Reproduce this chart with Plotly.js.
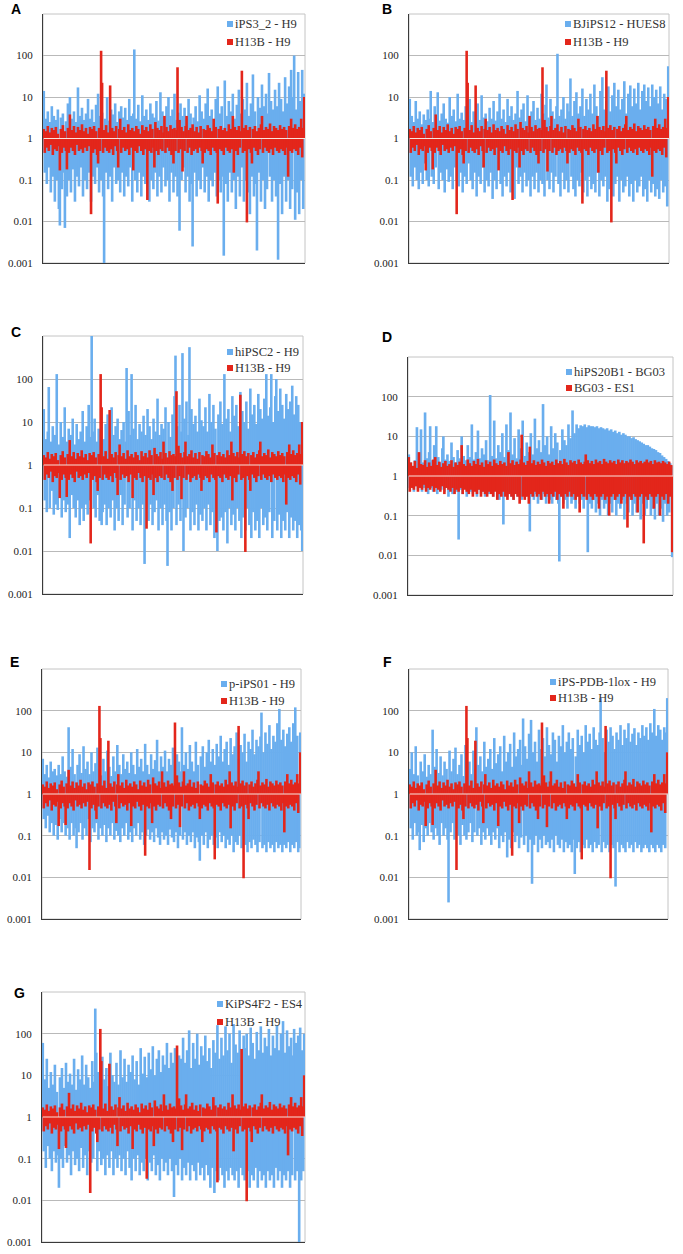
<!DOCTYPE html>
<html>
<head>
<meta charset="utf-8">
<script src="https://cdn.plot.ly/plotly-3.0.1.min.js"></script>
<style>
  body { margin: 0; background: #fff; }
  #myDiv { width: 683px; height: 1254px; }
</style>
</head>
<body>
<div id="myDiv"></div>
<script>
// ratios, left to right
var h13bH9 = [
  1.7, 0.45, 1.5, 0.6, 2.0, 0.5, 1.4, 0.7, 1.8, 0.4, 1.6, 0.55, 1.9, 0.5, 1.3, 0.65, 0.17, 1.7, 0.45, 2.1,
  0.6, 1.5, 0.5, 0.18, 1.8, 0.45, 3.8, 0.6, 1.6, 0.5, 2.0, 0.4, 1.4, 0.7, 1.9, 0.5, 1.6, 0.55, 2.2, 0.45,
  1.5, 0.6, 1.8, 0.5, 1.3, 0.65, 1.9, 0.015, 1.7, 0.45, 2.0, 0.55, 1.5, 0.4, 0.25, 1.8, 0.5, 130, 22, 0.45,
  1.6, 0.6, 2.1, 0.5, 1.4, 0.45, 19, 0.55, 1.8, 0.4, 1.5, 0.65, 2.0, 0.5, 0.2, 1.7, 3, 0.45, 1.6, 0.6,
  1.9, 0.5, 1.4, 0.55, 2.2, 0.4, 1.6, 0.6, 1.8, 0.17, 1.5, 0.5, 2.0, 0.45, 1.7, 0.65, 1.3, 0.5, 2.1, 0.4,
  1.6, 0.55, 1.9, 0.033, 1.5, 0.5, 2.2, 0.45, 1.7, 0.6, 0.2, 2.5, 0.5, 1.8, 0.4, 1.6, 0.55, 2.0, 0.5, 1.4,
  3.5, 0.45, 1.9, 0.6, 1.5, 0.5, 2.1, 0.4, 1.7, 0.25, 1.8, 0.5, 1.6, 52, 0.45, 2.8, 0.55, 1.9, 0.16, 1.5,
  0.5, 2.0, 3.5, 0.45, 1.6, 0.6, 1.8, 0.4, 2.2, 0.5, 1.5, 0.55, 1.9, 0.45, 1.4, 0.6, 2.0, 0.5, 0.25, 1.7,
  0.45, 1.6, 0.55, 2.1, 0.5, 1.8, 0.4, 1.5, 0.6, 3, 0.5, 1.9, 0.45, 0.027, 1.7, 0.55, 2.0, 0.5, 1.6, 0.4,
  1.8, 0.6, 1.5, 0.5, 2.2, 0.45, 1.7, 0.55, 3.5, 0.15, 1.9, 0.5, 1.6, 0.4, 2.0, 0.6, 1.5, 43, 0.45, 1.8,
  0.5, 2.1, 0.0095, 1.6, 0.55, 1.9, 0.45, 0.25, 1.7, 0.6, 2.0, 0.5, 1.5, 0.4, 1.8, 0.55, 2.2, 3.5, 0.45, 1.6,
  0.6, 1.9, 0.5, 1.7, 0.45, 2.3, 0.55, 1.5, 0.4, 2.0, 0.6, 1.8, 0.5, 1.6, 0.45, 2.1, 0.55, 1.7, 0.5, 1.9,
  0.4, 1.6, 0.6, 0.12, 2.0, 0.5, 3, 0.45, 1.8, 0.55, 2.2, 0.5, 1.7, 0.4, 1.9, 0.6, 3, 0.35, 1.8, 10
];

var iPS3_2H9 = [
  14, 0.15, 3, 0.08, 4.5, 0.2, 2.5, 0.05, 6, 0.12, 3.5, 0.03, 2.8, 0.1, 5, 0.02, 0.008, 3.2, 0.06, 4,
  0.15, 0.007, 2.6, 0.04, 7, 0.1, 10, 0.05, 3, 0.18, 4.5, 0.03, 2.5, 0.12, 17, 0.07, 3.5, 0.2, 5.5, 0.04,
  2.8, 0.1, 4, 0.06, 9, 0.15, 3, 0.03, 5, 0.12, 2.5, 0.08, 6.5, 0.2, 12, 0.05, 3.5, 0.1, 4.2, 0.04,
  0.001, 3, 0.15, 10, 0.06, 2.7, 0.12, 5, 0.03, 3.8, 0.2, 7, 0.08, 2.5, 0.1, 4.5, 0.05, 6, 0.15, 3.2,
  0.04, 5.5, 0.12, 2.8, 0.07, 9, 0.2, 3.5, 0.03, 4, 140, 0.1, 3, 0.05, 6.5, 0.15, 2.6, 0.04, 11, 0.12,
  3.5, 0.08, 5, 0.2, 2.8, 0.03, 7, 0.1, 4, 0.06, 3.2, 0.15, 8, 0.04, 2.7, 0.12, 13, 0.05, 4.5, 0.2,
  3, 0.07, 6, 0.1, 10, 0.03, 3.5, 0.15, 5, 0.05, 12, 0.12, 2.8, 0.04, 4.2, 0.006, 7, 0.1, 3.5, 0.2,
  5.5, 0.05, 2.9, 0.12, 9, 0.03, 4, 0.08, 0.0025, 3.2, 0.15, 6, 0.04, 2.6, 0.1, 11, 0.06, 4.5, 0.2, 3,
  0.05, 7, 0.12, 16, 0.03, 3.5, 0.1, 5, 0.07, 2.8, 0.15, 9, 0.04, 18, 0.1, 4, 0.05, 6, 0.12, 0.0015,
  25, 0.08, 3.5, 0.03, 8, 0.15, 4.5, 0.05, 12, 0.1, 3, 0.02, 6.5, 0.12, 15, 0.04, 4, 0.2, 9, 0.03,
  5, 0.1, 22, 0.05, 3.5, 0.015, 7, 0.12, 35, 0.04, 4.5, 0.08, 0.002, 10, 0.15, 5.5, 0.03, 20, 0.1, 6,
  0.02, 12, 0.06, 4, 38, 0.12, 8, 0.03, 5, 0.1, 15, 0.04, 6, 0.0012, 22, 0.08, 9, 0.015, 4.5, 0.12,
  30, 0.03, 7, 0.1, 18, 0.02, 45, 0.06, 10, 100, 0.011, 5, 0.05, 40, 0.015, 8, 0.1, 45, 0.02, 12
];

var bjiPS12HUES8 = [
  9, 0.12, 3.5, 0.07, 2.5, 0.2, 8, 0.1, 3, 0.06, 4.5, 0.15, 2.2, 0.08, 3.8, 0.25, 2.8, 0.1, 5, 0.07,
  3, 14, 0.12, 2.5, 0.08, 6, 0.2, 3.2, 13, 0.06, 2.7, 0.15, 4, 0.1, 7, 0.05, 3, 0.18, 2.4, 0.09,
  10, 0.12, 3.5, 0.06, 5, 0.2, 2.6, 0.1, 12, 0.07, 3, 0.15, 4.2, 0.05, 2.8, 0.12, 6, 0.08, 3.5, 0.25,
  9, 0.1, 2.5, 0.06, 4.5, 0.15, 3, 0.04, 7, 0.12, 2.8, 0.08, 11, 0.2, 3.2, 0.05, 4, 0.1, 2.6, 0.07,
  5.5, 0.15, 3, 0.035, 8, 0.1, 2.7, 0.06, 4.5, 0.18, 12, 0.08, 3, 0.04, 5, 0.12, 2.5, 0.07, 9, 0.15,
  3.5, 0.05, 6, 0.1, 2.8, 0.035, 4, 0.2, 14, 0.08, 3.2, 0.12, 5, 0.05, 7, 0.15, 2.6, 0.07, 11, 0.1,
  3.5, 0.04, 4.5, 0.12, 8, 0.06, 2.8, 0.15, 5.5, 0.05, 3, 0.1, 12, 0.08, 4, 0.04, 6.5, 20, 0.1, 3.2,
  0.06, 9, 0.15, 4.5, 0.05, 3, 0.12, 6, 110, 0.08, 3.5, 0.04, 5, 0.15, 10, 0.06, 3, 0.1, 7, 0.05,
  4.5, 28, 0.12, 3.5, 0.06, 8, 0.04, 13, 0.1, 4, 0.07, 6, 0.15, 16, 0.05, 3.5, 0.1, 9, 0.04, 5,
  0.12, 12, 0.06, 4, 0.08, 20, 0.05, 6, 0.15, 3.5, 0.04, 14, 0.1, 30, 0.07, 5, 0.12, 8, 0.03, 18,
  0.06, 4.5, 0.1, 11, 0.04, 22, 0.08, 6, 0.12, 15, 0.03, 5, 0.1, 9, 0.05, 24, 0.07, 4, 0.12, 12,
  0.04, 19, 0.08, 6, 0.03, 16, 0.1, 7, 0.05, 22, 0.07, 5, 0.12, 14, 0.04, 20, 0.06, 8, 0.03, 17,
  0.1, 6, 0.05, 20, 0.08, 10, 0.04, 15, 0.06, 7, 0.035, 18, 0.1, 5, 0.05, 12, 0.07, 9, 0.023, 55
];

var hiPSC2H9 = [
  20, 0.15, 4, 0.08, 6, 65, 0.1, 3.5, 0.25, 8, 0.07, 5, 0.12, 130, 0.09, 3, 0.2, 10, 0.06, 4.5,
  0.15, 22, 0.08, 3.5, 0.12, 7, 0.02, 5, 0.2, 12, 0.1, 3, 0.06, 9, 0.15, 4, 0.04, 6, 0.1, 18,
  0.05, 3.5, 0.12, 8, 0.07, 25, 0.15, 4.5, 1000, 6, 0.1, 12, 0.06, 3.5, 0.2, 7, 0.05, 5, 0.04, 0.08,
  4, 0.12, 9, 0.04, 15, 0.1, 3.5, 0.06, 22, 0.15, 5, 0.03, 8, 0.1, 12, 0.05, 4, 0.2, 6.5, 0.04,
  10, 0.12, 3.5, 180, 0.06, 18, 0.1, 5, 130, 0.03, 7, 0.15, 25, 0.05, 4, 0.1, 9, 0.04, 6, 0.12,
  14, 0.005, 5, 0.1, 20, 0.05, 8, 0.12, 4, 0.04, 12, 0.08, 6, 0.15, 35, 0.03, 5, 0.1, 9, 0.04,
  7, 0.12, 22, 0.05, 0.0045, 10, 0.08, 4.5, 0.03, 15, 0.1, 40, 350, 0.04, 8, 0.12, 25, 0.05, 6, 400,
  0.01, 12, 0.06, 30, 0.1, 5, 550, 0.03, 20, 0.08, 9, 0.04, 14, 0.12, 6, 0.03, 35, 0.07, 11, 0.05,
  8, 0.1, 22, 0.03, 6, 0.12, 45, 0.04, 10, 0.08, 25, 0.02, 7, 0.1, 0.01, 15, 0.05, 30, 0.06, 9,
  0.03, 130, 0.08, 12, 0.015, 20, 0.1, 6, 0.04, 40, 0.07, 14, 0.03, 25, 0.1, 8, 0.05, 50, 0.02, 18,
  0.06, 10, 0.03, 30, 0.1, 7, 0.04, 60, 0.02, 15, 0.08, 25, 0.03, 9, 0.05, 45, 0.02, 20, 0.1, 12,
  0.04, 35, 0.06, 130, 0.03, 14, 0.08, 22, 130, 0.02, 10, 0.05, 40, 100, 0.03, 18, 0.07, 60, 0.02, 25,
  0.05, 12, 0.03, 45, 0.08, 20, 0.02, 30, 0.06, 70, 0.03, 15, 0.05, 40, 0.02, 25, 0.04, 10, 0.03, 0.01
];

var hiPS20B1BG03 = [
  3.5, 0.5, 2.2, 0.6, 1.8, 0.4, 2.5, 0.55, 17, 0.45, 3, 0.6, 15, 0.4, 2.2, 0.5, 40, 0.45, 2.8, 0.35,
  4, 18, 0.5, 2.5, 0.4, 6, 0.55, 18, 0.35, 3, 0.5, 2.2, 0.45, 5, 10, 0.4, 2.6, 0.5, 3.5, 0.3,
  2.4, 0.45, 7, 0.35, 3, 0.5, 2.2, 0.4, 4.5, 0.025, 2.8, 0.45, 10, 0.35, 3.2, 0.5, 2.5, 0.3, 6, 0.45,
  3, 0.4, 20, 0.35, 2.6, 0.5, 4, 0.3, 14, 0.45, 2.8, 0.35, 5, 0.4, 3.5, 0.3, 8, 0.45, 2.5, 0.35,
  110, 0.4, 3.2, 0.3, 25, 0.45, 2.8, 0.35, 6, 0.25, 4, 0.4, 12, 0.06, 3, 0.35, 20, 0.3, 4.5, 0.4,
  40, 0.3, 3.5, 0.25, 9, 0.4, 2.8, 0.3, 15, 0.35, 5, 0.25, 25, 0.4, 3.2, 0.3, 7, 0.35, 4, 0.04,
  12, 0.3, 3.5, 0.25, 28, 0.35, 5, 0.2, 8, 0.3, 4, 0.25, 65, 0.35, 6, 0.2, 10, 0.3, 3.5, 0.25,
  18, 0.2, 5, 0.3, 12, 0.25, 7, 0.2, 0.007, 4.5, 0.3, 15, 0.2, 8, 0.25, 6, 0.15, 20, 0.3, 9,
  0.2, 45, 0.25, 12, 0.15, 20, 0.3, 16, 0.2, 19, 0.25, 18, 0.15, 20, 0.3, 17, 0.012, 19, 0.2, 18,
  0.15, 18, 0.25, 17, 0.12, 18, 0.2, 16, 0.1, 17, 0.25, 16, 0.15, 15, 0.2, 16, 0.1, 14, 0.2, 15,
  0.12, 13, 0.25, 14, 0.1, 12, 0.2, 13, 0.15, 11, 0.25, 12, 0.08, 11, 0.2, 10, 0.12, 10, 0.25, 9,
  0.1, 9.5, 0.2, 8.5, 0.12, 8, 0.25, 7.5, 0.08, 7, 0.2, 6.5, 0.1, 6, 0.15, 6, 0.25, 5.5, 0.1, 5,
  0.15, 4.8, 0.08, 4.5, 0.2, 4, 0.1, 3.8, 0.15, 3.3, 0.07, 3, 0.2, 2.7, 0.1, 2.4, 0.12, 2.1, 1.8, 0.009
];

var bg03ES1 = [
  3, 0.4, 2.2, 0.5, 1.8, 0.45, 2.4, 0.55, 1.6, 0.4, 4, 0.5, 2.0, 0.45, 1.9, 0.6, 2.5, 0.4, 1.7, 0.5,
  2.2, 0.45, 1.8, 0.55, 2.6, 0.4, 3, 0.5, 1.9, 0.45, 2.3, 0.4, 1.7, 0.55, 2.1, 0.35, 2.4, 0.5, 1.8, 0.45,
  2.0, 0.4, 2.5, 0.5, 1.7, 0.35, 2.2, 0.45, 1.9, 0.4, 2.3, 0.5, 6, 0.35, 2.0, 0.45, 1.8, 0.4, 2.6, 0.35,
  2.1, 0.45, 1.8, 0.3, 2.4, 0.4, 2.0, 0.35, 2.7, 0.45, 1.9, 0.3, 2.2, 0.4, 1.7, 0.35, 2.5, 0.3, 2.0, 0.4,
  2.3, 0.35, 1.8, 0.3, 2.6, 0.4, 2.1, 0.25, 1.9, 0.35, 2.4, 0.3, 2.0, 0.4, 2.2, 0.3, 1.8, 0.25, 4, 0.35,
  2.1, 0.3, 2.5, 0.25, 1.9, 0.35, 2.3, 0.3, 2.0, 0.2, 2.6, 11, 0.3, 2.2, 0.25, 1.9, 0.3, 2.4, 0.2, 5.5,
  0.35, 2.1, 0.3, 2.5, 0.4, 1.9, 0.3, 2.3, 0.35, 2.0, 0.25, 2.6, 0.4, 2.2, 0.3, 1.8, 0.35, 2.4, 0.2, 2.1,
  0.35, 2.3, 0.3, 1.9, 0.4, 2.6, 0.25, 2.1, 0.35, 2.4, 0.3, 2.0, 0.15, 2.7, 0.35, 2.2, 0.3, 1.9, 0.4, 2.5,
  0.3, 2.2, 0.35, 2.4, 0.25, 2.0, 0.3, 2.6, 0.12, 2.2, 0.35, 2.0, 0.3, 2.3, 3.5, 0.25, 2.5, 0.35, 2.1, 0.3,
  2.4, 0.25, 2.0, 0.35, 2.6, 0.3, 2.2, 0.15, 2.4, 0.3, 2.0, 0.35, 2.7, 0.25, 2.3, 0.3, 2.1, 0.1, 2.5, 0.3,
  2.2, 0.35, 2.4, 0.25, 2.0, 0.3, 2.6, 0.35, 2.2, 0.2, 2.5, 0.3, 2.1, 0.35, 2.4, 0.05, 2.2, 0.3, 2.6, 0.25,
  2.3, 0.35, 2.0, 0.3, 2.5, 0.12, 2.2, 0.3, 2.4, 0.35, 2.1, 0.02, 2.3, 0.3, 2.6, 0.25, 2.2, 0.35, 2.4, 0.3,
  2.0, 0.15, 2.5, 0.3, 2.2, 0.35, 2.3, 0.1, 2.1, 0.3, 2.4, 0.25, 2.2, 0.35, 2.0, 0.2, 2.3, 0.3, 1.9, 0.012
];

var pIPS01H9 = [
  7, 0.25, 3, 0.15, 5, 0.3, 2.5, 0.12, 6, 0.2, 3.5, 0.1, 4, 0.18, 2.8, 0.08, 5, 0.25, 3, 0.12,
  8, 0.2, 3.5, 0.1, 2.6, 0.15, 40, 0.08, 4.5, 0.2, 12, 0.1, 3, 0.15, 0.05, 5, 0.12, 9, 0.2, 3.2,
  0.08, 14, 0.15, 4, 0.1, 6, 0.25, 3, 0.07, 10, 0.15, 3.5, 0.12, 5.5, 0.2, 13, 0.08, 4, 0.15, 2.8,
  0.1, 7, 0.18, 3.5, 0.07, 11, 0.15, 4.5, 0.1, 2.7, 0.2, 8, 0.08, 3.5, 0.13, 15, 0.1, 5, 0.07, 3,
  0.15, 9, 0.1, 4, 0.2, 6, 0.08, 3.2, 0.12, 10, 0.07, 5, 0.15, 3, 0.1, 12, 0.2, 4.5, 0.08, 7,
  0.12, 3.5, 0.06, 16, 0.1, 5, 0.14, 3, 0.08, 9, 0.12, 4, 0.07, 6.5, 0.15, 20, 0.09, 3.5, 0.06, 8,
  0.12, 4.5, 0.08, 11, 0.1, 3.5, 0.06, 7, 0.14, 5, 0.09, 13, 0.07, 4, 0.12, 9, 0.05, 6, 0.1, 3.5,
  40, 0.08, 5, 0.12, 10, 0.06, 4, 0.1, 15, 0.07, 6, 0.12, 3.5, 0.05, 18, 0.09, 5, 0.07, 0.025, 8,
  0.1, 14, 0.06, 4.5, 0.12, 10, 0.05, 20, 0.08, 6, 0.1, 12, 0.06, 5, 0.09, 16, 0.05, 8, 0.12, 25,
  0.07, 6, 0.1, 12, 0.05, 18, 0.08, 5, 0.06, 22, 0.1, 9, 0.04, 14, 0.07, 30, 0.06, 7, 0.1, 15,
  0.05, 10, 0.08, 28, 0.06, 6, 0.04, 18, 0.07, 12, 0.05, 35, 0.08, 9, 0.06, 20, 0.04, 14, 0.07, 24,
  90, 0.05, 10, 0.06, 30, 0.04, 16, 0.07, 45, 0.05, 12, 0.06, 25, 0.04, 18, 0.07, 50, 0.05, 110, 0.06,
  20, 0.04, 35, 0.06, 14, 0.05, 28, 0.07, 40, 0.04, 18, 0.06, 50, 0.05, 120, 0.07, 25, 0.04, 0.05, 30
];

var iPSPDB1loxH9 = [
  4, 0.15, 10, 0.08, 3, 0.2, 14, 0.1, 2.8, 0.12, 0.045, 6, 0.18, 3.5, 0.07, 9, 0.15, 2.6, 0.1, 5,
  0.2, 3, 0.12, 35, 0.08, 4.5, 0.15, 12, 0.1, 3.2, 0.06, 8, 0.2, 2.8, 0.1, 6, 0.15, 4, 0.08, 0.0025,
  11, 0.12, 3.5, 0.2, 7, 0.08, 13, 0.15, 3, 0.1, 5, 0.06, 9, 0.18, 2.7, 0.1, 15, 0.08, 4.5, 0.12,
  6, 0.2, 3, 0.07, 11, 0.12, 4, 40, 0.1, 5, 0.15, 8, 0.06, 3.5, 0.12, 18, 0.08, 4.5, 0.15, 7,
  0.1, 12, 0.06, 4, 0.12, 22, 0.08, 5.5, 0.15, 9, 0.05, 14, 0.1, 3.5, 0.07, 25, 0.12, 6, 0.03, 10,
  0.08, 16, 0.05, 4.5, 0.12, 30, 0.07, 8, 0.1, 12, 0.05, 20, 0.09, 5, 65, 0.06, 14, 0.1, 7, 0.04,
  28, 0.08, 60, 0.007, 10, 0.06, 18, 0.1, 6, 0.04, 35, 0.08, 12, 0.05, 22, 0.1, 8, 0.06, 40, 0.07,
  15, 0.05, 9, 0.08, 30, 0.04, 20, 0.1, 6, 0.06, 25, 0.05, 14, 0.08, 45, 0.04, 10, 0.07, 18, 0.05,
  30, 0.06, 12, 0.04, 22, 0.08, 0.012, 8, 0.05, 35, 0.07, 15, 0.04, 25, 0.06, 10, 0.05, 45, 0.08, 18,
  0.05, 28, 0.06, 12, 0.04, 40, 0.07, 20, 0.05, 15, 0.06, 30, 200, 0.04, 22, 0.07, 10, 0.05, 35, 0.06,
  18, 0.04, 40, 0.06, 25, 0.05, 12, 0.006, 30, 0.07, 20, 0.04, 45, 0.06, 15, 0.05, 35, 0.04, 22, 0.07,
  50, 0.05, 18, 0.06, 28, 0.04, 38, 0.07, 15, 0.05, 30, 0.06, 22, 0.04, 45, 0.05, 25, 0.06, 40, 0.05,
  20, 0.04, 50, 0.06, 30, 0.05, 110, 0.04, 25, 0.06, 45, 0.05, 35, 0.04, 20, 0.06, 40, 0.05, 30, 200
];

var kiPS4F2ES4 = [
  60, 0.15, 8, 0.06, 25, 0.2, 5, 0.1, 12, 0.05, 6, 0.15, 18, 0.08, 4, 0.12, 0.02, 9, 0.1, 15,
  0.06, 5, 0.2, 20, 0.08, 7, 0.12, 11, 0.04, 6, 0.15, 25, 0.07, 4.5, 0.1, 14, 0.05, 8, 0.18, 30,
  0.06, 6, 0.12, 18, 0.04, 9, 0.15, 5, 0.08, 22, 0.1, 7, 400, 35, 0.05, 12, 0.15, 6, 0.07, 28,
  0.1, 8, 0.04, 15, 0.12, 5.5, 0.06, 35, 0.15, 10, 0.04, 7, 0.1, 20, 0.06, 6, 0.12, 40, 0.05, 9,
  0.1, 25, 0.04, 7, 0.15, 18, 0.06, 12, 0.03, 30, 0.1, 8, 0.05, 22, 0.12, 6, 0.04, 45, 0.08, 11,
  0.05, 28, 0.1, 9, 0.03, 35, 0.08, 14, 0.05, 50, 0.12, 10, 0.04, 25, 0.07, 40, 0.03, 12, 0.1, 30,
  0.05, 18, 0.08, 60, 0.04, 15, 0.1, 35, 0.05, 20, 0.012, 45, 0.07, 12, 0.04, 30, 0.1, 25, 0.03, 80,
  0.06, 20, 0.04, 40, 0.08, 120, 0.03, 15, 0.07, 60, 0.05, 25, 0.03, 100, 0.08, 18, 0.04, 50, 0.06, 30,
  0.03, 90, 0.07, 22, 0.04, 45, 0.02, 15, 0.06, 70, 0.015, 35, 0.05, 160, 0.03, 25, 0.06, 80, 0.04, 30,
  0.02, 150, 0.05, 40, 0.03, 100, 0.06, 20, 0.04, 170, 0.03, 55, 0.05, 35, 0.02, 120, 0.06, 25, 0.04, 90,
  0.03, 45, 100, 0.05, 30, 0.02, 140, 0.04, 60, 0.03, 25, 0.06, 110, 0.02, 40, 0.05, 150, 0.03, 35, 0.04,
  80, 0.02, 50, 0.05, 130, 0.03, 30, 0.04, 90, 0.02, 45, 0.06, 160, 0.03, 40, 0.05, 100, 0.02, 200, 0.04,
  35, 0.03, 120, 0.05, 50, 0.02, 80, 0.04, 30, 130, 0.03, 60, 0.05, 90, 0.001, 140, 0.03, 40, 0.05, 100
];

var yTickVals = [0.001, 0.01, 0.1, 1, 10, 100];
var yTickText = ['0.001', '0.01', '0.1', '1', '10', '100'];

var blue = '#6aaeee';
var red = '#e3261b';
var W = 683, H = 1254;

// box = [left, right, top, bottom] in px, leg = [square x, row1 y, row2 y], lab = [x, y]
var panels = [
  { letter: 'A', blue: iPS3_2H9, blueName: 'iPS3_2 - H9', red: h13bH9, redName: 'H13B - H9',
    box: [43, 305, 14, 263], leg: [227, 24, 42], lab: [9, 9] },
  { letter: 'B', blue: bjiPS12HUES8, blueName: 'BJiPS12 - HUES8', red: h13bH9, redName: 'H13B - H9',
    box: [409, 669, 14, 263], leg: [565, 24, 42], lab: [380, 9] },
  { letter: 'C', blue: hiPSC2H9, blueName: 'hiPSC2 - H9', red: h13bH9, redName: 'H13B - H9',
    box: [43, 303, 336, 594], leg: [227, 352, 368], lab: [9, 332] },
  { letter: 'D', blue: hiPS20B1BG03, blueName: 'hiPS20B1 - BG03', red: bg03ES1, redName: 'BG03 - ES1',
    box: [408, 673, 357, 595], leg: [566, 372, 388], lab: [380, 337] },
  { letter: 'E', blue: pIPS01H9, blueName: 'p-iPS01 - H9', red: h13bH9, redName: 'H13B - H9',
    box: [42, 301, 669, 919], leg: [221, 684, 701], lab: [8, 662] },
  { letter: 'F', blue: iPSPDB1loxH9, blueName: 'iPS-PDB-1lox - H9', red: h13bH9, redName: 'H13B - H9',
    box: [409, 668, 669, 919], leg: [550, 682, 698], lab: [381, 662] },
  { letter: 'G', blue: kiPS4F2ES4, blueName: 'KiPS4F2 - ES4', red: h13bH9, redName: 'H13B - H9',
    box: [42, 305, 992, 1242], leg: [217, 1004, 1022], lab: [12, 993] }
];

// columns hang from 1, so each bar's length is value - 1
function barTrace(vals, name, color, xr, yr) {
  var n = vals.length;
  return {
    type: 'bar', name: name, xaxis: xr, yaxis: yr,
    x: vals.map(function (v, i) { return i / (n - 1); }),
    y: vals.map(function (v) { return v - 1; }),
    base: 1,
    width: 2.6 / (n - 1),
    marker: { color: color, line: { width: 0 } }
  };
}

var data = [];
var layout = {
  width: W, height: H,
  margin: { l: 0, r: 0, t: 0, b: 0 },
  paper_bgcolor: '#fff', plot_bgcolor: '#fff',
  barmode: 'overlay',
  showlegend: false,
  hovermode: false,
  shapes: [],
  annotations: []
};

panels.forEach(function (p, k) {
  var n = k === 0 ? '' : String(k + 1);
  var xr = 'x' + n, yr = 'y' + n;

  data.push(barTrace(p.blue, p.blueName, blue, xr, yr));
  data.push(barTrace(p.red, p.redName, red, xr, yr));

  layout['xaxis' + n] = {
    domain: [p.box[0] / W, p.box[1] / W], anchor: yr,
    range: [-0.003, 1.003],
    showgrid: false, zeroline: false, showticklabels: false, ticks: '',
    showline: true, linecolor: '#3a3a3a', linewidth: 1
  };
  layout['yaxis' + n] = {
    domain: [1 - p.box[3] / H, 1 - p.box[2] / H], anchor: xr,
    type: 'log', range: [-3, 3],
    tickvals: yTickVals, ticktext: yTickText,
    ticks: '', ticklabelstandoff: 7,
    tickfont: { family: 'Liberation Serif', size: 11, color: '#222' },
    showgrid: true, gridcolor: '#b9b9b9', gridwidth: 1,
    showline: true, linecolor: '#3a3a3a', linewidth: 1, zeroline: false
  };

  // light plot frame
  layout.shapes.push({
    type: 'rect', xref: xr + ' domain', yref: yr + ' domain',
    x0: 0, x1: 1, y0: 0, y1: 1, layer: 'below',
    line: { color: '#c4c4c4', width: 1 }
  });
  // pale line where the ratio is 1
  layout.shapes.push({
    type: 'line', xref: xr + ' domain', yref: yr + ' domain',
    x0: 0.003, x1: 1, y0: 0.5, y1: 0.5, layer: 'above',
    line: { color: '#fbe3dc', width: 1 }
  });

  // legend squares and labels
  [[p.blueName, blue, p.leg[1]], [p.redName, red, p.leg[2]]].forEach(function (e) {
    layout.shapes.push({
      type: 'rect', xref: 'paper', yref: 'paper', layer: 'above',
      x0: p.leg[0] / W, x1: (p.leg[0] + 6) / W,
      y0: 1 - (e[2] + 3) / H, y1: 1 - (e[2] - 3) / H,
      fillcolor: e[1], line: { width: 0 }
    });
    layout.annotations.push({
      text: e[0], xref: 'paper', yref: 'paper',
      x: (p.leg[0] + 6) / W, y: 1 - e[2] / H,
      xanchor: 'left', yanchor: 'middle', showarrow: false,
      font: { family: 'Liberation Serif', size: 12.5, color: '#333' }
    });
  });

  layout.annotations.push({
    text: '<b>' + p.letter + '</b>', xref: 'paper', yref: 'paper',
    x: p.lab[0] / W, y: 1 - p.lab[1] / H,
    xanchor: 'left', yanchor: 'middle', showarrow: false,
    font: { family: 'Liberation Sans', size: 14, color: '#000' }
  });
});

Plotly.newPlot('myDiv', data, layout, { staticPlot: true });
</script>
</body>
</html>
